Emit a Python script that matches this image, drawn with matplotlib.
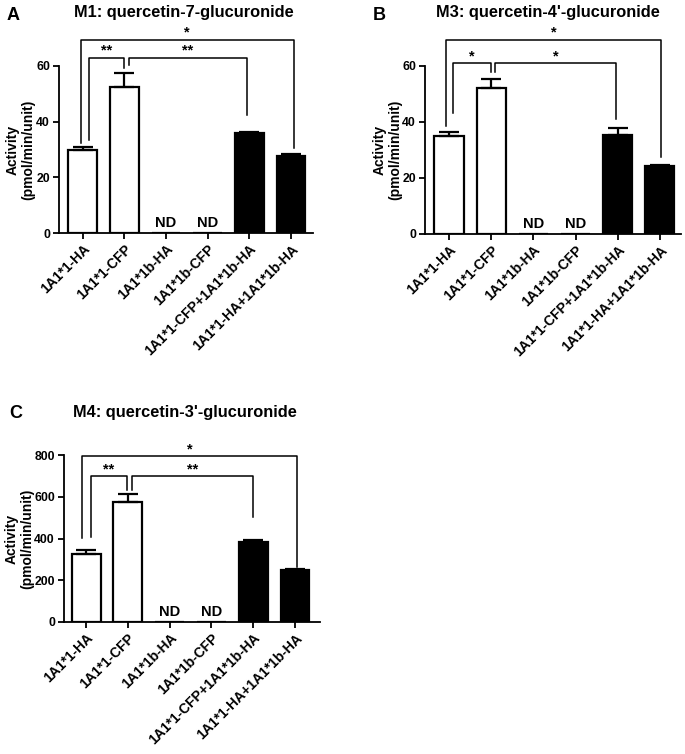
import numpy as np
import matplotlib
matplotlib.use("Agg")
import matplotlib.pyplot as plt

plt.rcParams['font.family'] = ['Liberation Sans', 'DejaVu Sans']
plt.rcParams['font.weight'] = 'bold'

# --- data ---
labels = ['1A1*1-HA', '1A1*1-CFP', '1A1*1b-HA', '1A1*1b-CFP',
          '1A1*1-CFP+1A1*1b-HA', '1A1*1-HA+1A1*1b-HA']
bar_colors = ['white', 'white', 'white', 'white', 'black', 'black']
nd_mask = [False, False, True, True, False, False]

m1_mean = [29.8, 52.3, 0, 0, 35.8, 27.8]
m1_err = [1.1, 5.2, 0, 0, 0.4, 0.5]
m3_mean = [35.0, 52.0, 0, 0, 35.3, 24.4]
m3_err = [1.3, 3.2, 0, 0, 2.6, 0.4]
m4_mean = [326, 573, 0, 0, 384, 249]
m4_err = [20, 40, 0, 0, 10, 4]

# brackets: (left x, right x, height, left leg end, right leg end, text)
m1_brackets = [(-0.05, 5.07, 69.4, 32.4, 30.6, '*'),
               (0.14, 1.0, 63.0, 33.5, 59.4, '**'),
               (1.10, 3.95, 63.0, 60.4, 42.4, '**')]
m3_brackets = [(-0.07, 5.03, 69.3, 38.5, 27.5, '*'),
               (0.10, 1.0, 61.0, 43.2, 58.0, '*'),
               (1.10, 3.97, 61.0, 58.0, 41.0, '*')]
m4_brackets = [(-0.10, 5.05, 795, 402, 265, '*'),
               (0.12, 0.97, 699, 408, 632, '**'),
               (1.10, 4.0, 699, 632, 504, '**')]


def draw_panel(ax, mean, err, ymax, ystep, brackets, xlim, width_px, lab_off):
    x = np.arange(len(labels))
    ax.bar(x, mean, width=0.69, color=bar_colors, edgecolor='black',
           linewidth=1.6, zorder=2)
    for xi, m, e in zip(x, mean, err):
        if m > 0:
            ax.errorbar(xi, m, yerr=[[0], [e]], color='black', capsize=7,
                        elinewidth=1.6, capthick=1.6, zorder=3)
    for xi, nd in zip(x, nd_mask):
        if nd:
            ax.text(xi, ymax * 0.02, 'ND', ha='center', va='bottom',
                    fontsize=10.5, fontweight='bold')

    for x1, x2, h, l1, l2, txt in brackets:
        ax.plot([x1, x1, x2, x2], [l1, h, h, l2], color='black', lw=1.1,
                clip_on=False, zorder=4)
        ax.text((x1 + x2) / 2, h, txt, ha='center', va='bottom',
                fontsize=10.5, fontweight='bold')

    ax.set_xlim(*xlim)
    ax.set_ylim(0, ymax)
    ax.set_yticks(np.arange(0, ymax + 1, ystep))
    ax.set_xticks(x)
    ax.set_xticklabels(labels, rotation=45, ha='right',
                       rotation_mode='anchor', fontsize=10, fontweight='bold')
    ax.tick_params(axis='both', direction='out', length=4, width=1.3, pad=2.5)
    ax.tick_params(axis='y', labelsize=8.8)
    for t in ax.get_yticklabels():
        t.set_fontweight('bold')
    ax.spines['top'].set_visible(False)
    ax.spines['right'].set_visible(False)
    ax.spines['left'].set_linewidth(1.3)
    ax.spines['bottom'].set_linewidth(1.3)
    ax.set_ylabel('Activity\n(pmol/min/unit)', fontsize=10,
                  fontweight='bold', linespacing=1.1)
    ax.yaxis.set_label_coords(-lab_off / width_px, 0.5)


W, H = 685, 754
fig = plt.figure(figsize=(W / 100, H / 100), dpi=100)


def axes_px(left, right, top, bottom):
    return fig.add_axes([left / W, 1 - bottom / H, (right - left) / W,
                         (bottom - top) / H])


ax_a = axes_px(59, 313, 66, 233)
ax_b = axes_px(425, 681, 66, 234)
ax_c = axes_px(64, 320, 455, 622)

draw_panel(ax_a, m1_mean, m1_err, 60, 20, m1_brackets, (-0.57, 5.53), 254, 24)
draw_panel(ax_b, m3_mean, m3_err, 60, 20, m3_brackets, (-0.57, 5.5), 256, 23)
draw_panel(ax_c, m4_mean, m4_err, 800, 200, m4_brackets, (-0.53, 5.6), 256, 30)

title_kw = dict(ha='center', va='center', fontsize=11.8, fontweight='bold')
fig.text(183.7 / W, 1 - 13 / H, 'M1: quercetin-7-glucuronide', **title_kw)
fig.text(548 / W, 1 - 13 / H, "M3: quercetin-4'-glucuronide", **title_kw)
fig.text(184.5 / W, 1 - 413 / H, "M4: quercetin-3'-glucuronide", **title_kw)

letter_kw = dict(ha='center', va='center', fontsize=13, fontweight='bold')
fig.text(12.7 / W, 1 - 15 / H, 'A', **letter_kw)
fig.text(379 / W, 1 - 15 / H, 'B', **letter_kw)
fig.text(15.5 / W, 1 - 413 / H, 'C', **letter_kw)

fig.savefig('out.png', dpi=100, facecolor='white')
